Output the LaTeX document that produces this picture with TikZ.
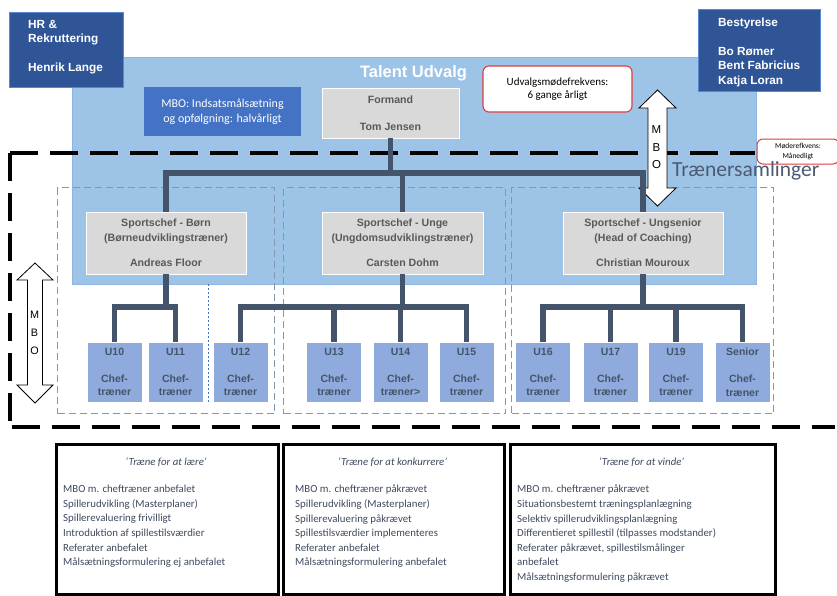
\documentclass[tikz,border=0pt]{standalone}
\usepackage{fontspec}
\setmainfont{Carlito}
\newfontfamily\arialf{Liberation Sans}
\definecolor{darkblue}{HTML}{2F5597}
\definecolor{edgeblue}{HTML}{5B86D0}
\definecolor{talentfill}{HTML}{9DC3E6}
\definecolor{talentedge}{HTML}{8EB4E3}
\definecolor{mbofill}{HTML}{4472C4}
\definecolor{greyfill}{HTML}{DAD9DA}
\definecolor{greytext}{HTML}{595959}
\definecolor{teamfill}{HTML}{8FAADC}
\definecolor{slate}{HTML}{44546A}
\definecolor{groupdash}{HTML}{8497B0}
\definecolor{redline}{HTML}{E03C3C}
\definecolor{bodytext}{HTML}{3E4A5E}
\definecolor{trstext}{HTML}{4A5B73}
\begin{document}
\begin{tikzpicture}[x=1pt,y=-1pt,
  darkbox/.style={fill=darkblue, draw=edgeblue, line width=0.8, inner sep=0, outer sep=0},
  darktext/.style={text=white, font=\arialf\bfseries\fontsize{11.8}{14.5}\selectfont, align=left, inner sep=0, anchor=west},
  greybox/.style={fill=greyfill, draw=white, line width=0.6, inner sep=0, font=\arialf\bfseries\fontsize{10.6}{15}\selectfont, text=greytext, align=center},
  teambox/.style={fill=teamfill, draw=white, line width=0.6, minimum width=55, minimum height=60, inner sep=0, font=\arialf\bfseries\fontsize{10.5}{13.5}\selectfont, text=slate, align=center},
  notebox/.style={fill=white, draw=redline, line width=1.1, rounded corners=6, inner sep=0, align=center},
  bus/.style={draw=slate, line width=5.5},
  groupbox/.style={draw=groupdash, line width=1.1, dash pattern=on 7 off 4, inner sep=0, anchor=north west},
  bigdash/.style={draw=black, line width=3.5, dash pattern=on 28 off 12},
  blockarrow/.style={fill=white, draw=black, line width=0.8, line join=miter},
  arrowletter/.style={font=\arialf\fontsize{11.5}{12}\selectfont, inner sep=0},
  phasebox/.style={draw=black, line width=3.2, fill=white, inner sep=0, anchor=north west},
  phasetitle/.style={font=\itshape\fontsize{10.8}{13}\selectfont, text=bodytext, inner sep=0},
  phaselist/.style={font=\fontsize{10.8}{14.6}\selectfont, text=bodytext, align=left, inner sep=0, anchor=north west},
]
\useasboundingbox (0,0) rectangle (837,595);

% committee background
\node[fill=talentfill, draw=talentedge, line width=0.6, inner sep=0, minimum width=684, minimum height=227, anchor=north west] (talent) at (72,57) {};
\node[font=\arialf\bfseries\fontsize{16.5}{18}\selectfont, text=white, inner sep=0] (ttitle) at (413.5,73) {Talent Udvalg};

% coach meeting frame
\draw[bigdash] (10,153) -- (10,422);
\draw[bigdash] (10,153) -- (755,153);
\draw[bigdash] (12,427) -- (835,427);

% age group frames
\node[groupbox, minimum width=217, minimum height=226] (g1) at (57,187) {};
\node[groupbox, minimum width=222, minimum height=226] (g2) at (283,187) {};
\node[groupbox, minimum width=262, minimum height=226] (g3) at (511,187) {};
\draw[mbofill, line width=0.8, dash pattern=on 2 off 2] (208,284) -- (208,402);

% MBO arrows
\draw[blockarrow] (657.5,90) -- (676,108) -- (667,108) -- (667,188) -- (676,188) -- (657.5,206) -- (639,188) -- (648,188) -- (648,108) -- (639,108) -- cycle;
\node[arrowletter] (mboR1) at (656.5,130) {M};
\node[arrowletter] (mboR2) at (656.5,148) {B};
\node[arrowletter] (mboR3) at (656.5,165) {O};
\draw[blockarrow] (35,263) -- (53,280) -- (42.5,280) -- (42.5,385) -- (53,385) -- (35,403) -- (17,385) -- (27.5,385) -- (27.5,280) -- (17,280) -- cycle;
\node[arrowletter, font=\arialf\fontsize{10.8}{12}\selectfont] (mboL1) at (34.5,315) {M};
\node[arrowletter, font=\arialf\fontsize{10.8}{12}\selectfont] (mboL2) at (34.5,333) {B};
\node[arrowletter, font=\arialf\fontsize{10.8}{12}\selectfont] (mboL3) at (34.5,351) {O};

% top level boxes
\node[darkbox, minimum width=114, minimum height=75, anchor=north west] (hr) at (9,12) {};
\node[darktext] (hrtext) at (28,47) {HR \&\\Rekruttering\\[14.5pt]Henrik Lange};
\node[darkbox, minimum width=122, minimum height=82, anchor=north west] (best) at (698,9) {};
\node[darktext] (besttext) at (718,52) {Bestyrelse\\[14.5pt]Bo Rømer\\Bent Fabricius\\Katja Loran};

\node[fill=mbofill, minimum width=157, minimum height=49, text=white, font=\fontsize{12}{15}\selectfont, align=center, inner sep=0] (mbo) at (222.5,111.5) {MBO: Indsatsmålsætning\\og opfølgning: halvårligt};
\node[notebox, minimum width=149, minimum height=46, font=\fontsize{11}{12.5}\selectfont] (udv) at (557.5,89) {Udvalgsmødefrekvens:\\6 gange årligt};
\node[notebox, line width=1, minimum width=82, minimum height=25, font=\fontsize{7.5}{10}\selectfont] (mode) at (798,151.5) {Møderefkvens:\\Månedligt};
\node[font=\fontsize{21.5}{24}\selectfont, text=trstext, anchor=west, inner sep=0] (trs) at (672,171) {Trænersamlinger};

% people
\node[greybox, minimum width=137, minimum height=50, font=\arialf\bfseries\fontsize{10.6}{13}\selectfont] (formand) at (390.5,113) {Formand\\[14pt]Tom Jensen};
\node[greybox, minimum width=160, minimum height=62] (sc1) at (166,243) {Sportschef - Børn\\(Børneudviklingstræner)\\[10pt]Andreas Floor};
\node[greybox, minimum width=161, minimum height=62] (sc2) at (402.5,243) {Sportschef - Unge\\(Ungdomsudviklingstræner)\\[10pt]Carsten Dohm};
\node[greybox, minimum width=160, minimum height=62] (sc3) at (643,243) {Sportschef - Ungsenior\\(Head of Coaching)\\[10pt]Christian Mouroux};

\node[teambox] (u10) at (114.5,372) {U10\\[13.5pt]Chef-\\træner};
\node[teambox] (u11) at (175.5,372) {U11\\[13.5pt]Chef-\\træner};
\node[teambox] (u12) at (240.5,372) {U12\\[13.5pt]Chef-\\træner};
\node[teambox] (u13) at (334,372) {U13\\[13.5pt]Chef-\\træner};
\node[teambox] (u14) at (400.5,372) {U14\\[13.5pt]Chef-\\træner>};
\node[teambox] (u15) at (466.5,372) {U15\\[13.5pt]Chef-\\træner};
\node[teambox] (u16) at (543,372) {U16\\[13.5pt]Chef-\\træner};
\node[teambox] (u17) at (610.5,372) {U17\\[13.5pt]Chef-\\træner};
\node[teambox] (u19) at (676,372) {U19\\[13.5pt]Chef-\\træner};
\node[teambox] (usen) at (742.5,372) {Senior\\[13.5pt]Chef-\\træner};

% reporting lines
\coordinate (busA) at (0,173);
\coordinate (busB) at (0,307);
\draw[bus] (formand.south) -- (formand.south |- busA);
\draw[bus] (sc1.north) -- (sc1.north |- busA) -- (sc3.north |- busA) -- (sc3.north);
\draw[bus] (sc2.north) -- (sc2.north |- busA);
\draw[bus] (sc1.south) -- (sc1.south |- busB);
\draw[bus] (u10.north) -- (u10.north |- busB) -- (u11.north |- busB) -- (u11.north);
\draw[bus] (sc2.south) -- (sc2.south |- busB);
\draw[bus] (u12.north) -- (u12.north |- busB) -- (u15.north |- busB) -- (u15.north);
\draw[bus] (u13.north) -- (u13.north |- busB);
\draw[bus] (u14.north) -- (u14.north |- busB);
\draw[bus] (sc3.south) -- (sc3.south |- busB);
\draw[bus] (u16.north) -- (u16.north |- busB) -- (usen.north |- busB) -- (usen.north);
\draw[bus] (u17.north) -- (u17.north |- busB);
\draw[bus] (u19.north) -- (u19.north |- busB);

% development phases
\node[phasebox, minimum width=222, minimum height=150] (ph1) at (55,443) {};
\node[phasebox, minimum width=221, minimum height=150] (ph2) at (282,443) {};
\node[phasebox, minimum width=265, minimum height=150] (ph3) at (509,443) {};
\node[phasetitle] (ph1t) at (166,462) {‘Træne for at lære’};
\node[phasetitle] (ph2t) at (392.5,462) {‘Træne for at konkurrere’};
\node[phasetitle] (ph3t) at (641.5,462) {‘Træne for at vinde’};
\node[phaselist] (ph1l) at (63,485) {MBO m. cheftræner anbefalet\\Spillerudvikling (Masterplaner)\\Spillerevaluering frivilligt\\Introduktion af spillestilsværdier\\Referater anbefalet\\Målsætningsformulering ej anbefalet};
\node[phaselist] (ph2l) at (295,485) {MBO m. cheftræner påkrævet\\Spillerudvikling (Masterplaner)\\Spillerevaluering påkrævet\\Spillestilsværdier implementeres\\Referater anbefalet\\Målsætningsformulering anbefalet};
\node[phaselist] (ph3l) at (517,485) {MBO m. cheftræner påkrævet\\Situationsbestemt træningsplanlægning\\Selektiv spillerudviklingsplanlægning\\Differentieret spillestil (tilpasses modstander)\\Referater påkrævet, spillestilsmålinger\\anbefalet\\Målsætningsformulering påkrævet};
\end{tikzpicture}
\end{document}
